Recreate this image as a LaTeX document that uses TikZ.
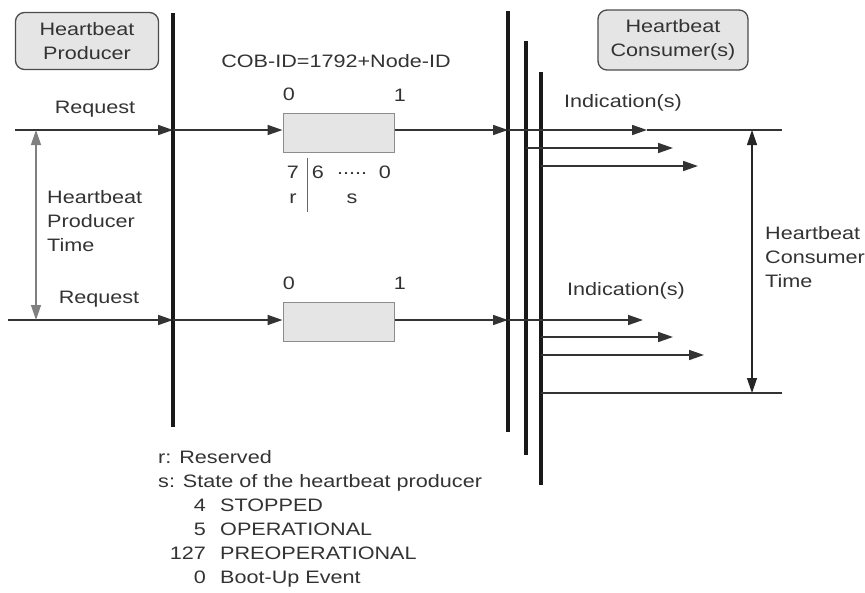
\documentclass[tikz,border=0pt]{standalone}
\usepackage{fontspec}
\setmainfont[FakeStretch=1.2]{Liberation Sans}
\usetikzlibrary{arrows.meta}
\begin{document}
\begin{tikzpicture}[x=1pt,y=-1pt,
  txt/.style={text=black!80, font=\fontsize{18}{24}\selectfont, inner sep=0pt, align=left},
  rbox/.style={draw=black!70, line width=1.3pt, fill=black!10, rounded corners=9pt, align=center,
    text=black!80, font=\fontsize{18}{24}\selectfont, inner sep=0pt},
  frame/.style={draw=black!45, fill=black!10, line width=1pt, minimum width=111pt, minimum height=39pt, inner sep=0pt},
  bus/.style={line width=3.2pt, black!90},
  sig/.style={line width=1.6pt, black!80},
  arr/.style={sig, -{Triangle[length=15pt,width=10pt]}},
  tm/.style={line width=1.3pt, {Triangle[length=15pt,width=10pt]}-{Triangle[length=15pt,width=10pt]}},
  thin/.style={line width=0.9pt, black!60}]
\useasboundingbox (0,0) rectangle (865,592);
\fill[white] (0,0) rectangle (865,592);

% boxes
\node[rbox, minimum width=143pt, minimum height=57pt] (prod) at (87,41) {Heartbeat\\Producer};
\node[rbox, minimum width=150pt, minimum height=60pt] (cons) at (673,40) {Heartbeat\\Consumer(s)};
\node[frame] (f1) at (338.5,132.5) {};
\node[frame] (f2) at (338.5,321.5) {};

% buses
\coordinate (p1) at (173,13); \coordinate (p2) at (173,427);
\coordinate (c1a) at (508,11); \coordinate (c1b) at (508,432);
\coordinate (c2a) at (526,41); \coordinate (c2b) at (526,455);
\coordinate (c3a) at (541,72); \coordinate (c3b) at (541,485);
\draw[bus] (p1) -- (p2);
\draw[bus] (c1a) -- (c1b);
\draw[bus] (c2a) -- (c2b);
\draw[bus] (c3a) -- (c3b);

% row 1
\coordinate (r1s) at (15,130); \coordinate (r1p) at (173,130);
\coordinate (r1c) at (508,130); \coordinate (r1t) at (647,130); \coordinate (r1e) at (782,130);
\draw[arr] (r1s) -- (r1p);
\draw[arr] (r1p) -- (r1p -| f1.west);
\draw[arr] (r1p -| f1.east) -- (r1c);
\draw[arr] (r1c) -- (r1t);
\draw[sig] (r1t) -- (r1e);
\coordinate (i2s) at (526,148); \coordinate (i2t) at (673,148);
\coordinate (i3s) at (541,166); \coordinate (i3t) at (698,166);
\draw[arr] (i2s) -- (i2t);
\draw[arr] (i3s) -- (i3t);

% row 2
\coordinate (r2s) at (8,320); \coordinate (r2p) at (173,320);
\coordinate (r2c) at (508,320); \coordinate (r2t) at (643,320);
\draw[arr] (r2s) -- (r2p);
\draw[arr] (r2p) -- (r2p -| f2.west);
\draw[arr] (r2p -| f2.east) -- (r2c);
\draw[arr] (r2c) -- (r2t);
\coordinate (j2s) at (541,337); \coordinate (j2t) at (673,337);
\coordinate (j3s) at (541,355); \coordinate (j3t) at (704,355);
\draw[arr] (j2s) -- (j2t);
\draw[arr] (j3s) -- (j3t);
\coordinate (b1) at (541,393); \coordinate (b2) at (782,393);
\draw[sig] (b1) -- (b2);

% time arrows
\coordinate (pt1) at (36,130); \coordinate (pt2) at (36,320);
\draw[tm, black!50] (pt1) -- (pt2);
\coordinate (ct1) at (752,130); \coordinate (ct2) at (752,393);
\draw[tm, black!85] (ct1) -- (ct2);

% labels
\node[txt] (cob) at (336,61) {COB-ID=1792+Node-ID};
\node[txt] (rq1) at (95,109) {Request};
\node[txt] (rq2) at (99,299) {Request};
\node[txt] (in1) at (623,103) {Indication(s)};
\node[txt] (in2) at (626,291) {Indication(s)};
\node[txt, anchor=west] (hpt) at (47,221) {Heartbeat\\Producer\\Time};
\node[txt, anchor=west] (hct) at (765,257) {Heartbeat\\Consumer\\Time};
\node[txt] (z1) at (289,94) {0};
\node[txt] (o1) at (400,95) {1};
\node[txt] (z2) at (289,283) {0};
\node[txt] (o2) at (400,283) {1};

% bit field
\node[txt] (b7) at (293,172) {7};
\node[txt] (b6) at (318,172) {6};
\node[txt] (bd) at (352,174) {.....};
\node[txt] (b0) at (385,172) {0};
\node[txt] (br) at (293,199) {r};
\node[txt] (bs) at (352,199) {s};
\coordinate (sep1) at (307,158); \coordinate (sep2) at (307,212);
\draw[thin] (sep1) -- (sep2);

% legend
\node[txt, anchor=base west] (lr) at (158,463) {r: Reserved};
\node[txt, anchor=base west] (ls) at (158,487) {s: State of the heartbeat producer};
\node[txt, anchor=base east] (n4) at (206,511) {4};
\node[txt, anchor=base west] (w4) at (220,511) {STOPPED};
\node[txt, anchor=base east] (n5) at (206,535) {5};
\node[txt, anchor=base west] (w5) at (220,535) {OPERATIONAL};
\node[txt, anchor=base east] (n127) at (206,559) {127};
\node[txt, anchor=base west] (w127) at (220,559) {PREOPERATIONAL};
\node[txt, anchor=base east] (n0) at (206,583) {0};
\node[txt, anchor=base west] (w0) at (220,583) {Boot-Up Event};
\end{tikzpicture}
\end{document}
